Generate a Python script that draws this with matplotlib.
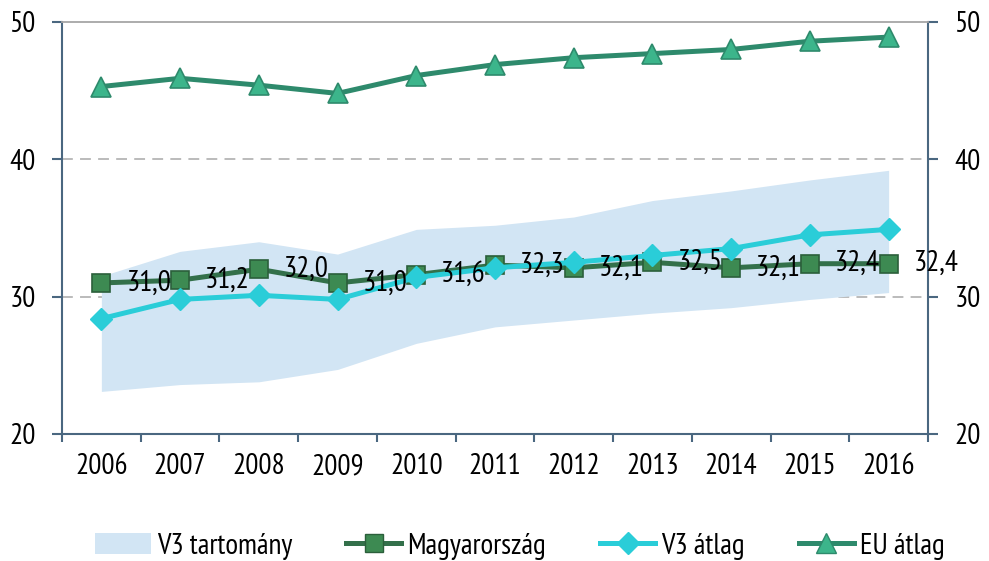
import matplotlib
matplotlib.use("Agg")
import matplotlib.pyplot as plt
from matplotlib.patches import Patch
from matplotlib.lines import Line2D
from matplotlib import font_manager

names = {f.name for f in font_manager.fontManager.ttflist}
FONT = 'Liberation Sans'
for cand in ['Arial Narrow', 'Liberation Sans Narrow', 'Nimbus Sans Narrow',
             'PT Sans Narrow', 'Archivo Narrow', 'Roboto Condensed']:
    if cand in names:
        FONT = cand
        break
plt.rcParams['font.family'] = [FONT, 'DejaVu Sans']

years = ['2006', '2007', '2008', '2009', '2010', '2011', '2012', '2013', '2014', '2015', '2016']
v3_low = [23.1, 23.6, 23.8, 24.7, 26.6, 27.8, 28.3, 28.8, 29.2, 29.8, 30.3]
v3_high = [31.5, 33.3, 34.0, 33.1, 34.9, 35.2, 35.8, 37.0, 37.7, 38.5, 39.2]
hungary = [31.0, 31.2, 32.0, 31.0, 31.6, 32.3, 32.1, 32.5, 32.1, 32.4, 32.4]
v3_avg = [28.4, 29.8, 30.1, 29.8, 31.4, 32.1, 32.5, 33.0, 33.5, 34.5, 34.9]
eu_avg = [45.3, 45.9, 45.4, 44.8, 46.1, 46.9, 47.4, 47.7, 48.0, 48.6, 48.9]
yticks = [20, 30, 40, 50]

BAND = '#d2e5f4'
HU_LINE = '#33704a'
HU_FACE = '#3d8a52'
HU_EDGE = '#2b5f3b'
V3_COL = '#2acdd8'
EU_LINE = '#2e8a6c'
EU_FACE = '#3cb58b'
SPINE = '#4a6780'
FS = 21

fig = plt.figure(figsize=(9.89, 5.61), dpi=100)
ax = fig.add_axes([62/989, 1-434/561, (928-62)/989, (434-22)/561])
x = list(range(len(years)))

ax.fill_between(x, v3_low, v3_high, color=BAND, lw=0, zorder=2)
ax.plot(x, hungary, color=HU_LINE, lw=3.6, marker='s', ms=13.5,
        mfc=HU_FACE, mec=HU_EDGE, mew=1.2, zorder=3)
ax.plot(x, v3_avg, color=V3_COL, lw=3.6, marker='D', ms=11,
        mfc=V3_COL, mec=V3_COL, zorder=4)
ax.plot(x, eu_avg, color=EU_LINE, lw=3.6, marker='^', ms=14,
        mfc=EU_FACE, mec=EU_LINE, mew=1.2, zorder=5)

for xi, v in zip(x, hungary):
    ax.annotate(f'{v:.1f}'.replace('.', ','), (xi, v), xytext=(18, 0),
                textcoords='offset points', ha='left', va='center',
                fontsize=FS, color='black', zorder=6)

ax.set_xlim(-0.5, len(years) - 0.5)
ax.set_ylim(20, 50)
ax.set_yticks(yticks)
ax.set_xticks(x)
ax.set_xticklabels(years)
ax.set_xticks([i - 0.5 for i in range(len(years) + 1)], minor=True)
ax.tick_params(axis='x', which='major', length=0, pad=14, labelsize=FS)
ax.tick_params(axis='x', which='minor', length=6, width=1.5, color=SPINE, direction='out')
ax.tick_params(axis='y', which='major', length=7, width=1.5, color=SPINE,
               direction='out', left=True, right=True, labelleft=True, labelright=True,
               labelsize=FS, pad=12)

for yv in [30, 40]:
    ax.axhline(yv, color='#b5b5b5', lw=1.3, ls=(0, (6, 4)), zorder=1)

for s in ['left', 'right', 'bottom']:
    ax.spines[s].set_color(SPINE)
    ax.spines[s].set_linewidth(1.5)
ax.spines['top'].set_color('#a6a6a6')
ax.spines['top'].set_linewidth(1.3)

handles = [
    Patch(facecolor=BAND, edgecolor='none'),
    Line2D([], [], color=HU_LINE, lw=3.6, marker='s', ms=13.5, mfc=HU_FACE, mec=HU_EDGE),
    Line2D([], [], color=V3_COL, lw=3.6, marker='D', ms=11, mfc=V3_COL, mec=V3_COL),
    Line2D([], [], color=EU_LINE, lw=3.6, marker='^', ms=14, mfc=EU_FACE, mec=EU_LINE),
]
labels = ['V3 tartomány', 'Magyarország', 'V3 átlag', 'EU átlag']
fig.legend(handles, labels, loc='center', bbox_to_anchor=(520/989, 1-546/561),
           ncol=4, frameon=False, fontsize=FS, handlelength=1.9, handletextpad=0.2,
           columnspacing=1.85, borderpad=0)

fig.savefig('out.png', dpi=100)
